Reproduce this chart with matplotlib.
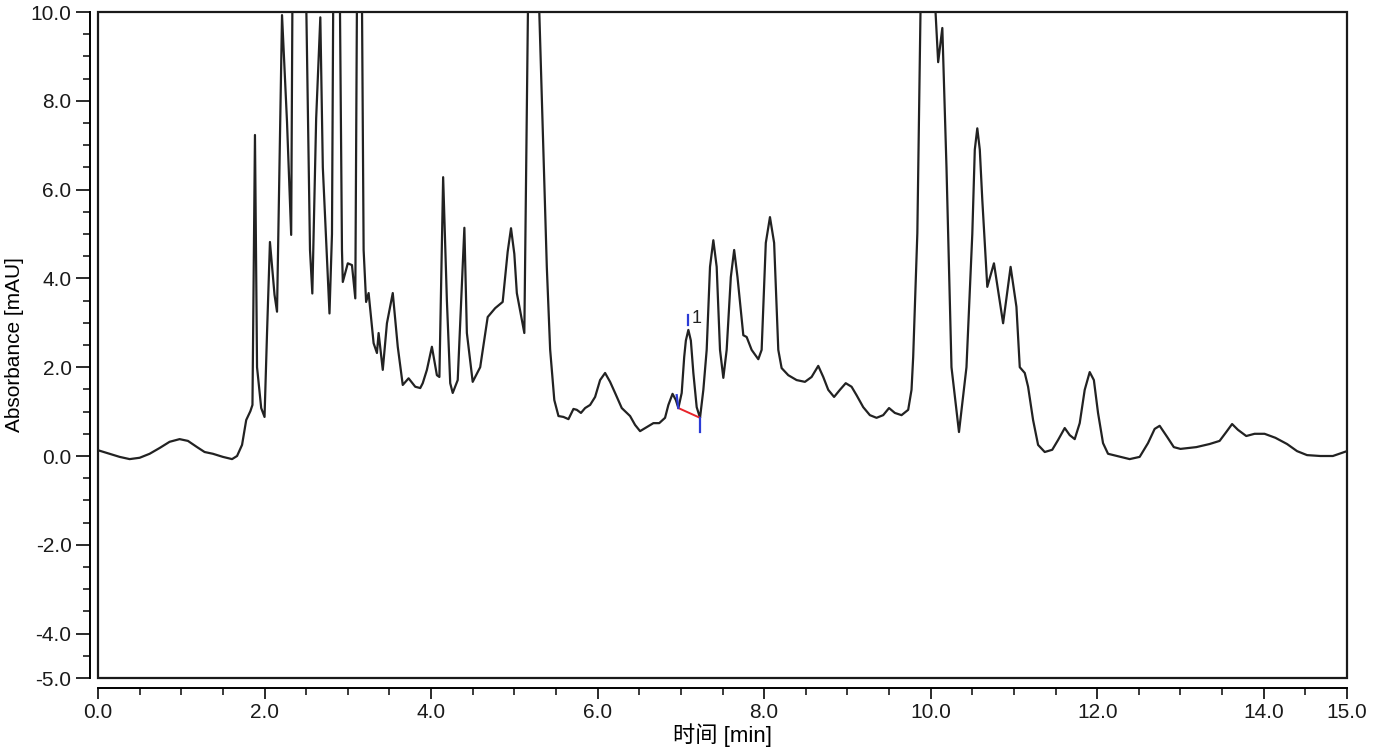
import matplotlib
matplotlib.use("Agg")
import matplotlib.pyplot as plt
from matplotlib.patches import Rectangle
from matplotlib.ticker import MultipleLocator

plt.rcParams['font.family'] = ['Liberation Sans', 'Noto Sans CJK SC']
plt.rcParams['axes.unicode_minus'] = False

# chromatogram trace (time in min, absorbance in mAU)
time_min = [
    0.00, 0.14, 0.26, 0.38, 0.50, 0.62, 0.74, 0.86, 0.98, 1.08, 1.19, 1.28, 1.38, 1.50,
    1.61, 1.67, 1.73, 1.78, 1.83, 1.855, 1.885, 1.91, 1.96, 2.00, 2.03, 2.065, 2.12, 2.15,
    2.21, 2.27, 2.32, 2.335, 2.42, 2.50, 2.546, 2.574, 2.62, 2.67, 2.70, 2.78, 2.81, 2.825,
    2.865, 2.905, 2.93, 2.94, 3.00, 3.05, 3.09, 3.11, 3.14, 3.17, 3.19, 3.22, 3.25, 3.31,
    3.35, 3.37, 3.42, 3.47, 3.54, 3.60, 3.66, 3.73, 3.81, 3.87, 3.90, 3.95, 4.01, 4.07,
    4.10, 4.145, 4.19, 4.23, 4.26, 4.32, 4.40, 4.43, 4.50, 4.59, 4.68, 4.77, 4.86, 4.92,
    4.96, 5.00, 5.03, 5.12, 5.165, 5.23, 5.295, 5.39, 5.43, 5.48, 5.53, 5.59, 5.65, 5.71,
    5.75, 5.80, 5.85, 5.91, 5.97, 6.03, 6.09, 6.15, 6.21, 6.29, 6.39, 6.45, 6.51, 6.59,
    6.67, 6.74, 6.81, 6.85, 6.90, 6.94, 6.97, 7.01, 7.04, 7.06, 7.09, 7.12, 7.15, 7.19,
    7.23, 7.27, 7.31, 7.35, 7.39, 7.43, 7.47, 7.51, 7.55, 7.60, 7.64, 7.68, 7.75, 7.79,
    7.85, 7.93, 7.97, 8.02, 8.07, 8.12, 8.17, 8.21, 8.29, 8.39, 8.49, 8.57, 8.65, 8.71,
    8.77, 8.84, 8.91, 8.98, 9.05, 9.11, 9.19, 9.27, 9.35, 9.43, 9.50, 9.57, 9.65, 9.73,
    9.77, 9.79, 9.84, 9.88, 9.96, 10.05, 10.09, 10.14, 10.19, 10.25, 10.34, 10.43, 10.50, 10.53,
    10.56, 10.59, 10.62, 10.68, 10.76, 10.87, 10.96, 11.03, 11.07, 11.13, 11.17, 11.23, 11.29, 11.37,
    11.46, 11.53, 11.61, 11.67, 11.73, 11.79, 11.85, 11.91, 11.96, 12.01, 12.07, 12.13, 12.24, 12.39,
    12.51, 12.61, 12.69, 12.75, 12.84, 12.92, 13.00, 13.19, 13.35, 13.47, 13.55, 13.62, 13.69, 13.79,
    13.89, 14.01, 14.14, 14.28, 14.40, 14.52, 14.68, 14.83, 14.94, 15.00,
]
absorbance = [
    0.13, 0.05, -0.02, -0.07, -0.04, 0.05, 0.18, 0.32, 0.38, 0.34, 0.20, 0.09, 0.05, -0.02,
    -0.07, 0.00, 0.25, 0.81, 1.01, 1.15, 7.23, 2.00, 1.08, 0.88, 2.77, 4.82, 3.63, 3.25,
    9.93, 7.52, 4.98, 10.3, 14.0, 10.3, 4.64, 3.66, 7.60, 9.88, 6.50, 3.21, 5.00, 10.3,
    13.0, 10.3, 4.64, 3.92, 4.34, 4.30, 3.55, 10.3, 12.0, 10.3, 4.64, 3.47, 3.67, 2.54,
    2.32, 2.77, 1.94, 2.99, 3.67, 2.46, 1.60, 1.75, 1.56, 1.53, 1.64, 1.94, 2.46, 1.82,
    1.78, 6.28, 3.50, 1.64, 1.42, 1.71, 5.14, 2.77, 1.67, 2.00, 3.13, 3.33, 3.47, 4.60,
    5.13, 4.55, 3.67, 2.77, 10.3, 25.0, 10.3, 4.26, 2.40, 1.26, 0.90, 0.88, 0.83, 1.06,
    1.04, 0.97, 1.08, 1.15, 1.33, 1.71, 1.87, 1.67, 1.42, 1.08, 0.90, 0.70, 0.56, 0.65,
    0.74, 0.74, 0.86, 1.15, 1.40, 1.26, 1.08, 1.42, 2.23, 2.60, 2.84, 2.60, 1.87, 1.10,
    0.86, 1.49, 2.39, 4.26, 4.86, 4.26, 2.39, 1.76, 2.39, 4.03, 4.64, 4.03, 2.72, 2.68,
    2.39, 2.18, 2.39, 4.80, 5.38, 4.80, 2.39, 1.98, 1.82, 1.71, 1.67, 1.78, 2.03, 1.78,
    1.49, 1.33, 1.49, 1.64, 1.56, 1.37, 1.10, 0.92, 0.86, 0.92, 1.08, 0.97, 0.92, 1.04,
    1.49, 2.23, 5.02, 10.3, 20.0, 10.3, 8.87, 9.64, 6.50, 2.00, 0.54, 2.00, 5.00, 6.90,
    7.38, 6.90, 5.77, 3.81, 4.34, 2.99, 4.26, 3.36, 2.00, 1.87, 1.56, 0.81, 0.25, 0.09,
    0.14, 0.36, 0.63, 0.47, 0.38, 0.74, 1.49, 1.89, 1.71, 0.97, 0.29, 0.05, 0.00, -0.07,
    -0.02, 0.29, 0.61, 0.68, 0.43, 0.20, 0.16, 0.20, 0.27, 0.34, 0.54, 0.72, 0.59, 0.45,
    0.50, 0.50, 0.41, 0.27, 0.11, 0.02, 0.00, 0.00, 0.07, 0.11,
]

# integration marks for peak 1
peak_label = "1"
peak_start = (6.97, 1.08)
peak_end = (7.23, 0.86)
peak_top = (7.09, 2.84)

x_major = [0, 2, 4, 6, 8, 10, 12, 14, 15]
y_major = [-5, -4, -2, 0, 2, 4, 6, 8, 10]

fig = plt.figure(figsize=(13.87, 7.48), dpi=100)
ax = fig.add_axes([98 / 1387, 1 - 678 / 748, 1249 / 1387, 666 / 748])

ax.plot(time_min, absorbance, color='#222222', lw=1.6, solid_joinstyle='round')

# baseline and peak markers
ax.plot([peak_start[0], peak_end[0]], [peak_start[1], peak_end[1]], color='#e8232a', lw=1.4)
ax.plot([peak_start[0] - 0.02, peak_start[0]], [peak_start[1] + 0.29, peak_start[1]], color='#2b3bd6', lw=1.6)
ax.plot([peak_end[0], peak_end[0]], [peak_end[1], peak_end[1] - 0.32], color='#2b3bd6', lw=1.6)
ax.plot([peak_top[0], peak_top[0]], [peak_top[1] + 0.11, peak_top[1] + 0.34], color='#2b3bd6', lw=1.6)
ax.text(peak_top[0] + 0.04, peak_top[1] + 0.16, peak_label, fontsize=13, color='#222222')

ax.set_xlim(0, 15)
ax.set_ylim(-5, 10)

for side in ['top', 'right']:
    ax.spines[side].set_visible(False)
ax.spines['left'].set_position(('outward', 6))
ax.spines['bottom'].set_position(('outward', 7))
ax.spines['left'].set_linewidth(1.4)
ax.spines['bottom'].set_linewidth(1.4)
ax.add_patch(Rectangle((0, 0), 1, 1, transform=ax.transAxes, fill=False,
                       lw=1.6, edgecolor='#1a1a1a', clip_on=False))

ax.set_xticks(x_major)
ax.set_xticklabels(['%.1f' % v for v in x_major])
ax.set_yticks(y_major)
ax.set_yticklabels(['%.1f' % v for v in y_major])
ax.xaxis.set_minor_locator(MultipleLocator(0.5))
ax.yaxis.set_minor_locator(MultipleLocator(0.5))
ax.tick_params(which='major', length=8, width=1.3, labelsize=15, pad=3, colors='#1a1a1a')
ax.tick_params(which='minor', length=5, width=1.2, colors='#1a1a1a')
ax.tick_params(axis='y', which='major', length=10)

ax.set_ylabel('Absorbance [mAU]', fontsize=15, labelpad=5)
ax.set_xlabel('时间 [min]', fontsize=16, labelpad=1)

fig.savefig('out.png', dpi=100)
